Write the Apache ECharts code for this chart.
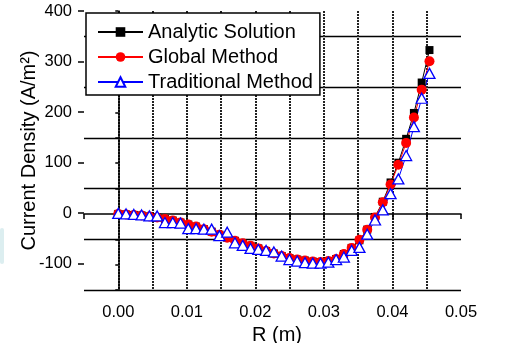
<!DOCTYPE html>
<html>
<head>
<meta charset="utf-8">
<script src="https://cdn.jsdelivr.net/npm/echarts@6/dist/echarts.min.js"></script>
<style>
  html, body { margin: 0; padding: 0; background: #fff; }
  #chart { width: 508px; height: 343px; }
</style>
</head>
<body>
<div id="chart"></div>
<script>
// R (m) sample positions
var rValues = [0, 0.001135, 0.00227, 0.003405, 0.00454, 0.005675, 0.00681, 0.007945, 0.00908, 0.010215,
  0.01135, 0.012485, 0.01362, 0.014755, 0.01589, 0.017025, 0.01816, 0.019295, 0.02043, 0.021565,
  0.0227, 0.023835, 0.02497, 0.026105, 0.02724, 0.028375, 0.02951, 0.030645, 0.03178, 0.032915,
  0.03405, 0.035185, 0.03632, 0.037455, 0.03859, 0.039725, 0.04086, 0.041995, 0.04313, 0.044265, 0.0454];

var analytic = [0, -1, -2, -3, -5, -7, -10, -13, -17, -21,
  -25, -30, -35, -41, -47, -53, -58, -63, -68, -73,
  -78, -83, -87, -90, -92, -94, -95, -93, -89, -79,
  -67, -52, -31, -6, 24, 62, 101, 148, 199, 259, 323];

var globalMethod = [0, -1, -2, -3, -5, -7, -10, -13, -17, -21,
  -25, -30, -35, -41, -47, -53, -58, -63, -68, -73,
  -78, -83, -87, -90, -92, -94, -95, -93, -89, -79,
  -67, -51, -31, -7, 23, 58, 97, 140, 190, 245, 301];

var traditional = [1, 0, -1, -2, -4, -4, -17, -17, -18, -29,
  -29, -30, -30, -43, -36, -57, -62, -68, -70, -72,
  -75, -83, -90, -93, -96, -97, -97, -95, -90, -85,
  -72, -66, -40, -12, 8, 40, 69, 115, 172, 228, 277];

var seriesNames = ["Analytic Solution", "Global Method", "Traditional Method"];

function pairs(ys) {
  return rValues.map(function (x, i) { return [x, ys[i]]; });
}

var font = "'Liberation Sans', Arial, sans-serif";
var chart = echarts.init(document.getElementById("chart"));

chart.setOption({
  animation: false,
  grid: [
    { left: 84, right: 47, top: 11, bottom: 53, outerBoundsMode: "none" },
    // overlay grid only used for the labelled major ticks (-100 .. 400)
    { left: 84, right: 47, top: 11, bottom: 79.5, outerBoundsMode: "none" },
  ],
  // faint teal smudge at the left edge of the scan
  graphic: [
    {
      type: "rect",
      left: 0,
      top: 228,
      shape: { width: 4, height: 36, r: 2 },
      style: { fill: "rgba(80,170,180,0.2)" },
      silent: true,
    },
  ],
  legend: {
    orient: "vertical",
    left: 86,
    top: 13,
    padding: [9, 7, 3, 11],
    itemWidth: 45,
    itemHeight: 12,
    itemGap: 5,
    backgroundColor: "#fff",
    borderColor: "#000",
    borderWidth: 1.5,
    textStyle: { fontSize: 20, color: "#000", fontFamily: font },
    data: seriesNames,
  },
  xAxis: [
    {
      type: "value",
      gridIndex: 0,
      min: -0.005,
      max: 0.05,
      interval: 0.005,
      name: "R (m)",
      nameLocation: "middle",
      nameGap: 25,
      nameTextStyle: { fontSize: 20, color: "#000", fontFamily: font, padding: [0, 0, 0, 9] },
      axisLine: { lineStyle: { color: "#000", width: 1.5 } },
      axisTick: { length: 5, lineStyle: { color: "#000", width: 1.5 } },
      axisLabel: {
        color: "#000",
        fontSize: 16.5,
        fontFamily: font,
        margin: 14,
        formatter: function (v) {
          var k = Math.round(v * 1000);
          if (k < 0 || k % 10 !== 0) return "";
          return v.toFixed(2);
        },
      },
      splitLine: {
        show: true,
        lineStyle: {
          color: ["transparent", "#222", "#222", "#222", "#222", "#222",
            "#222", "#222", "#222", "#222", "#222", "transparent"],
          type: [2, 1],
          width: 2,
        },
      },
    },
    { type: "value", gridIndex: 1, min: 0, max: 1, show: false },
  ],
  yAxis: [
    {
      type: "value",
      gridIndex: 0,
      min: -150,
      max: 400,
      interval: 50,
      name: "Current Density (A/m²)",
      nameLocation: "middle",
      nameGap: 45,
      nameTextStyle: { fontSize: 20, color: "#000", fontFamily: font },
      axisLine: { show: true, lineStyle: { color: "#000", width: 1.5 } },
      axisTick: { show: true, length: 3, lineStyle: { color: "#000", width: 1.5 } },
      axisLabel: { show: false },
      splitLine: {
        show: true,
        lineStyle: { color: ["#000", "transparent"], width: 1.3 },
      },
    },
    {
      type: "value",
      gridIndex: 1,
      min: -100,
      max: 400,
      interval: 100,
      axisLine: { show: false },
      axisTick: { show: true, length: 6, lineStyle: { color: "#000", width: 1.5 } },
      axisLabel: { color: "#000", fontSize: 16.5, fontFamily: font, margin: 12 },
      splitLine: { show: false },
    },
  ],
  series: [
    {
      name: seriesNames[0],
      type: "line",
      data: pairs(analytic),
      symbol: "rect",
      symbolSize: 8,
      itemStyle: { color: "#000" },
      lineStyle: { color: "#000", width: 1 },
    },
    {
      name: seriesNames[1],
      type: "line",
      data: pairs(globalMethod),
      symbol: "circle",
      symbolSize: 10,
      itemStyle: { color: "#ff0000" },
      lineStyle: { color: "#ff0000", width: 1 },
    },
    {
      name: seriesNames[2],
      type: "line",
      data: pairs(traditional),
      symbol: "triangle",
      symbolSize: [11, 10],
      itemStyle: { color: "#fff", borderColor: "#0000ff", borderWidth: 1.3 },
      lineStyle: { color: "#0000ff", width: 1 },
    },
  ],
});
</script>
</body>
</html>
